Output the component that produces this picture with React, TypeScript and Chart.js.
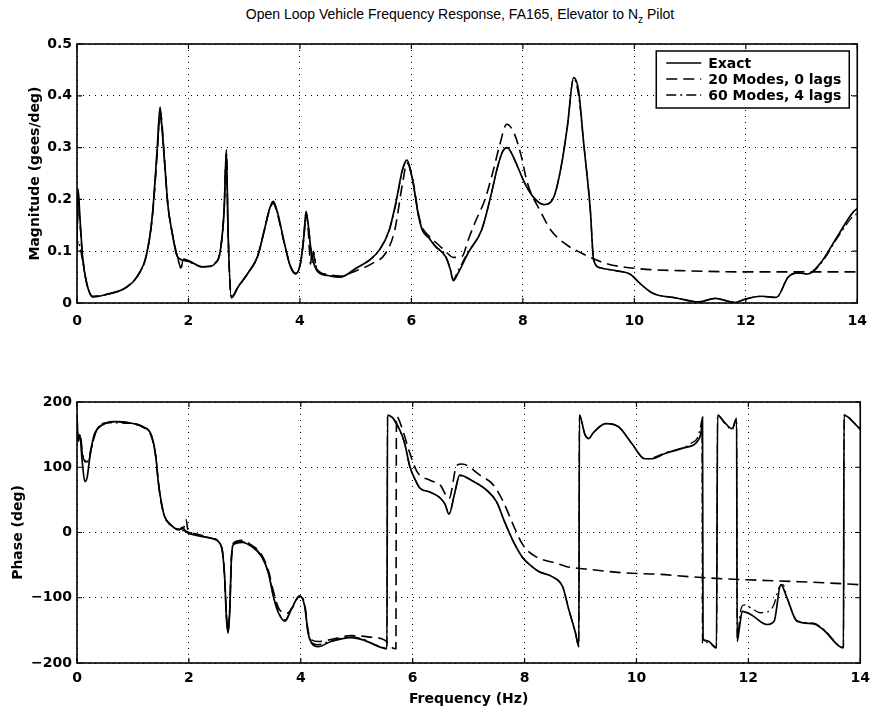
import React, { useEffect, useRef } from 'react';
import { Chart, registerables } from 'chart.js';
Chart.register(...registerables);

const FONT = "'DejaVu Sans', 'Liberation Sans', sans-serif";

// ---------- Magnitude (gees/deg) ----------
const magExactFreq = [0, 0.02, 0.05, 0.1, 0.17, 0.28, 0.4, 0.58, 0.75, 0.88, 1.0, 1.12, 1.24, 1.35, 1.44, 1.49, 1.53, 1.58, 1.63, 1.7, 1.8, 1.92, 2.0, 2.1, 2.24, 2.35, 2.48, 2.57, 2.64, 2.68, 2.71, 2.77, 2.89, 3.07, 3.24, 3.36, 3.45, 3.52, 3.6, 3.72, 3.83, 3.92, 4.01, 4.07, 4.11, 4.15, 4.19, 4.24, 4.31, 4.5, 4.72, 5.02, 5.25, 5.43, 5.6, 5.72, 5.84, 5.92, 6.02, 6.13, 6.2, 6.31, 6.43, 6.61, 6.7, 6.75, 6.84, 7.02, 7.26, 7.41, 7.55, 7.64, 7.72, 7.85, 8.03, 8.2, 8.38, 8.56, 8.7, 8.8, 8.91, 9.0, 9.09, 9.21, 9.27, 9.39, 9.68, 9.92, 10.1, 10.33, 10.74, 11.16, 11.45, 11.8, 11.98, 12.28, 12.55, 12.76, 12.94, 13.11, 13.34, 13.64, 13.93, 14];
const magExactVal = [0.12, 0.22, 0.17, 0.09, 0.04, 0.012, 0.013, 0.018, 0.023, 0.03, 0.04, 0.058, 0.09, 0.167, 0.3, 0.378, 0.33, 0.26, 0.19, 0.14, 0.09, 0.082, 0.08, 0.076, 0.07, 0.07, 0.077, 0.1, 0.18, 0.296, 0.14, 0.01, 0.031, 0.058, 0.09, 0.14, 0.18, 0.196, 0.174, 0.116, 0.07, 0.056, 0.077, 0.128, 0.177, 0.15, 0.11, 0.08, 0.062, 0.053, 0.05, 0.068, 0.083, 0.103, 0.14, 0.193, 0.258, 0.276, 0.238, 0.167, 0.14, 0.126, 0.109, 0.09, 0.064, 0.043, 0.058, 0.097, 0.141, 0.2, 0.264, 0.293, 0.3, 0.277, 0.232, 0.203, 0.19, 0.206, 0.271, 0.342, 0.435, 0.41, 0.31, 0.18, 0.083, 0.068, 0.062, 0.056, 0.038, 0.019, 0.01, 0.002, 0.009, 0.001, 0.007, 0.013, 0.011, 0.05, 0.058, 0.056, 0.077, 0.128, 0.176, 0.182];

const mag20Freq = [0, 0.02, 0.05, 0.1, 0.17, 0.28, 0.58, 0.88, 1.12, 1.24, 1.35, 1.44, 1.49, 1.53, 1.58, 1.63, 1.7, 1.8, 1.87, 1.9, 2.0, 2.24, 2.48, 2.57, 2.64, 2.68, 2.71, 2.77, 2.89, 3.07, 3.24, 3.36, 3.45, 3.52, 3.6, 3.72, 3.83, 3.92, 4.01, 4.07, 4.11, 4.15, 4.19, 4.22, 4.31, 4.5, 4.72, 5.0, 5.31, 5.53, 5.7, 5.84, 5.92, 6.02, 6.13, 6.2, 6.31, 6.49, 6.61, 6.75, 6.91, 7.02, 7.14, 7.32, 7.46, 7.58, 7.71, 7.85, 7.97, 8.08, 8.33, 8.5, 8.79, 9.04, 9.39, 9.57, 10.1, 10.99, 12.16, 13.0, 14];
const mag20Val = [0.12, 0.2, 0.16, 0.09, 0.04, 0.013, 0.018, 0.03, 0.058, 0.09, 0.165, 0.29, 0.37, 0.34, 0.26, 0.19, 0.14, 0.09, 0.068, 0.085, 0.082, 0.07, 0.077, 0.1, 0.18, 0.29, 0.14, 0.012, 0.031, 0.058, 0.09, 0.14, 0.178, 0.192, 0.17, 0.115, 0.072, 0.058, 0.077, 0.125, 0.172, 0.14, 0.075, 0.1, 0.065, 0.055, 0.052, 0.062, 0.077, 0.095, 0.14, 0.23, 0.27, 0.24, 0.17, 0.145, 0.13, 0.112, 0.1, 0.088, 0.09, 0.122, 0.155, 0.2, 0.252, 0.303, 0.345, 0.326, 0.284, 0.232, 0.174, 0.141, 0.112, 0.097, 0.08, 0.074, 0.066, 0.062, 0.06, 0.06, 0.06];

const mag60Freq = [0, 0.02, 0.05, 0.1, 0.17, 0.28, 0.58, 0.88, 1.12, 1.24, 1.35, 1.44, 1.49, 1.53, 1.58, 1.63, 1.7, 1.8, 1.87, 1.9, 2.0, 2.24, 2.48, 2.57, 2.64, 2.68, 2.71, 2.77, 2.89, 3.07, 3.24, 3.36, 3.45, 3.52, 3.6, 3.72, 3.83, 3.92, 4.01, 4.07, 4.11, 4.15, 4.19, 4.22, 4.24, 4.31, 4.5, 4.72, 5.02, 5.25, 5.43, 5.6, 5.72, 5.84, 5.92, 6.02, 6.13, 6.2, 6.31, 6.43, 6.61, 6.7, 6.75, 6.84, 7.02, 7.26, 7.41, 7.55, 7.64, 7.72, 7.85, 8.03, 8.2, 8.38, 8.56, 8.7, 8.8, 8.91, 9.0, 9.09, 9.21, 9.27, 9.39, 9.68, 9.92, 10.1, 10.33, 10.74, 11.16, 11.45, 11.8, 11.98, 12.28, 12.55, 12.76, 12.94, 13.11, 13.34, 13.64, 13.93, 14];
const mag60Val = [0.1, 0.12, 0.11, 0.08, 0.04, 0.012, 0.018, 0.03, 0.058, 0.09, 0.165, 0.29, 0.36, 0.33, 0.26, 0.19, 0.14, 0.09, 0.066, 0.083, 0.08, 0.07, 0.077, 0.1, 0.18, 0.29, 0.14, 0.01, 0.031, 0.058, 0.09, 0.14, 0.18, 0.195, 0.172, 0.115, 0.07, 0.056, 0.077, 0.128, 0.175, 0.15, 0.11, 0.078, 0.1, 0.063, 0.053, 0.05, 0.068, 0.083, 0.103, 0.14, 0.19, 0.256, 0.274, 0.237, 0.167, 0.14, 0.128, 0.11, 0.092, 0.065, 0.046, 0.063, 0.099, 0.141, 0.2, 0.264, 0.293, 0.3, 0.277, 0.232, 0.203, 0.19, 0.206, 0.271, 0.342, 0.433, 0.4, 0.31, 0.18, 0.083, 0.068, 0.062, 0.056, 0.038, 0.019, 0.01, 0.002, 0.009, 0.001, 0.007, 0.013, 0.011, 0.05, 0.058, 0.056, 0.075, 0.125, 0.168, 0.172];

// ---------- Phase (deg) ----------
const phExactFreq = [0, 0.02, 0.05, 0.09, 0.14, 0.18, 0.23, 0.3, 0.38, 0.53, 0.7, 1.0, 1.18, 1.33, 1.41, 1.45, 1.5, 1.56, 1.65, 1.83, 1.88, 1.95, 2.12, 2.41, 2.53, 2.6, 2.64, 2.67, 2.7, 2.73, 2.76, 2.8, 2.95, 3.13, 3.3, 3.42, 3.51, 3.6, 3.72, 3.83, 3.98, 4.07, 4.13, 4.19, 4.31, 4.54, 4.9, 5.13, 5.31, 5.54, 5.55, 5.64, 5.73, 5.85, 5.95, 6.05, 6.13, 6.31, 6.49, 6.58, 6.65, 6.75, 6.84, 7.09, 7.32, 7.5, 7.64, 7.8, 7.97, 8.1, 8.26, 8.5, 8.68, 8.79, 8.91, 8.97, 8.98, 9.08, 9.15, 9.22, 9.45, 9.68, 9.92, 10.15, 10.28, 10.51, 10.86, 11.09, 11.16, 11.18, 11.19, 11.27, 11.43, 11.45, 11.57, 11.71, 11.79, 11.8, 11.84, 11.89, 12.05, 12.33, 12.46, 12.58, 12.69, 12.87, 13.17, 13.34, 13.7, 13.71, 13.93, 14];
const phExactVal = [180, 140, 150, 112, 78, 84, 116, 148, 160, 168, 170, 167, 162, 149, 116, 80, 50, 26, 14, 4, 8, 1, -4, -9, -14, -30, -70, -130, -154, -120, -40, -18, -15, -22, -37, -62, -98, -123, -136, -118, -97, -113, -154, -169, -175, -167, -161, -165, -172, -178, 180, 176, 164, 139, 101, 80, 68, 62, 53, 43, 28, 60, 88, 78, 65, 47, 17, -14, -39, -50, -60, -68, -83, -118, -154, -175, 180, 150, 144, 152, 167, 162, 136, 113, 113, 121, 130, 140, 157, 177, -164, -166, -177, 180, 169, 159, 175, -167, -146, -121, -126, -141, -136, -80, -100, -136, -140, -149, -177, 180, 164, 158];

const ph20Freq = [0, 0.02, 0.06, 0.1, 0.15, 0.2, 0.25, 0.35, 0.53, 0.7, 1.0, 1.18, 1.33, 1.41, 1.45, 1.5, 1.56, 1.65, 1.83, 1.9, 1.95, 1.98, 2.12, 2.3, 2.41, 2.53, 2.6, 2.64, 2.67, 2.7, 2.73, 2.76, 2.8, 2.95, 3.13, 3.3, 3.42, 3.51, 3.6, 3.75, 3.85, 3.98, 4.07, 4.13, 4.2, 4.31, 4.54, 4.9, 5.2, 5.5, 5.64, 5.7, 5.71, 5.81, 5.94, 6.08, 6.31, 6.49, 6.65, 6.79, 6.88, 7.2, 7.44, 7.62, 7.8, 7.97, 8.2, 8.56, 8.74, 9.21, 9.8, 10.39, 10.99, 11.57, 12.16, 12.76, 13.34, 14];
const ph20Val = [180, 140, 148, 120, 108, 110, 128, 157, 168, 170, 167, 161, 147, 114, 80, 48, 26, 13, 5, 6, 20, 5, -2, -6, -9, -14, -28, -70, -125, -150, -118, -40, -16, -12, -20, -34, -58, -90, -115, -124, -115, -98, -110, -150, -165, -167, -164, -158, -160, -165, -177, -178, 178, 160, 124, 93, 80, 73, 52, 103, 105, 88, 73, 47, 11, -19, -37, -47, -52, -57, -62, -64, -68, -71, -73, -75, -77, -80];

const ph60Freq = [0, 0.02, 0.06, 0.1, 0.15, 0.2, 0.25, 0.35, 0.53, 1.0, 1.18, 1.33, 1.41, 1.45, 1.5, 1.56, 1.65, 1.83, 1.95, 2.12, 2.41, 2.53, 2.6, 2.64, 2.67, 2.7, 2.73, 2.76, 2.8, 2.95, 3.13, 3.3, 3.42, 3.51, 3.6, 3.72, 3.83, 3.98, 4.07, 4.13, 4.19, 4.31, 4.54, 4.9, 5.13, 5.31, 5.54, 5.55, 5.64, 5.73, 5.85, 5.95, 6.05, 6.13, 6.31, 6.49, 6.58, 6.65, 6.75, 6.84, 7.09, 7.32, 7.5, 7.64, 7.8, 7.97, 8.1, 8.26, 8.5, 8.68, 8.79, 8.91, 8.97, 8.98, 9.08, 9.15, 9.22, 9.45, 9.68, 9.92, 10.15, 10.28, 10.51, 10.86, 11.0, 11.09, 11.14, 11.17, 11.18, 11.27, 11.43, 11.45, 11.57, 11.71, 11.79, 11.8, 11.86, 11.93, 12.05, 12.21, 12.33, 12.45, 12.55, 12.62, 12.69, 12.87, 13.17, 13.34, 13.7, 13.71, 13.93, 14];
const ph60Val = [180, 142, 148, 118, 110, 108, 125, 157, 168, 167, 162, 148, 115, 80, 50, 25, 14, 4, 2, -4, -9, -14, -30, -70, -128, -152, -120, -40, -17, -14, -21, -36, -61, -96, -121, -134, -117, -97, -112, -152, -168, -172, -166, -160, -164, -171, -177, 180, 175, 163, 138, 100, 80, 68, 62, 53, 43, 29, 60, 87, 78, 65, 47, 17, -14, -39, -50, -60, -68, -83, -118, -154, -175, 180, 150, 144, 152, 167, 162, 136, 113, 114, 122, 131, 138, 145, 160, 172, -170, -168, -176, 180, 168, 158, 174, -165, -120, -111, -116, -123, -122, -112, -84, -80, -100, -135, -139, -148, -176, 180, 165, 160];

const seriesLabels = ['Exact', '20 Modes, 0 lags', '60 Modes, 4 lags'];
const freqTicksStep = 2;
const magTicksStep = 0.1;
const phaseTicksStep = 100;

const pts = (xs: number[], ys: number[]) => xs.map((x, i) => ({ x, y: ys[i] }));

const STYLES = [
  { borderDash: [] as number[], borderWidth: 1.7 },
  { borderDash: [11, 6], borderWidth: 1.6 },
  { borderDash: [10, 4, 2, 4], borderWidth: 1.3 },
];

const framePlugin = {
  id: 'frame',
  afterDatasetsDraw(chart: any) {
    const { ctx, chartArea: a, scales } = chart;
    ctx.save();
    ctx.strokeStyle = '#000';
    ctx.setLineDash([]);
    ctx.lineWidth = 1.6;
    ctx.strokeRect(a.left, a.top, a.right - a.left, a.bottom - a.top);
    ctx.lineWidth = 1.2;
    const L = 5;
    ctx.beginPath();
    scales.x.ticks.forEach((t: any) => {
      const p = scales.x.getPixelForValue(t.value);
      ctx.moveTo(p, a.bottom); ctx.lineTo(p, a.bottom - L);
      ctx.moveTo(p, a.top); ctx.lineTo(p, a.top + L);
    });
    scales.y.ticks.forEach((t: any) => {
      const p = scales.y.getPixelForValue(t.value);
      ctx.moveTo(a.left, p); ctx.lineTo(a.left + L, p);
      ctx.moveTo(a.right, p); ctx.lineTo(a.right - L, p);
    });
    ctx.stroke();
    ctx.restore();
  },
};

const legendPlugin = {
  id: 'boxLegend',
  afterDraw(chart: any) {
    const { ctx, chartArea: a } = chart;
    const w = 193, h = 57;
    const left = a.right - 8 - w, top = a.top + 7;
    ctx.save();
    ctx.fillStyle = '#fff';
    ctx.fillRect(left, top, w, h);
    ctx.strokeStyle = '#000';
    ctx.lineWidth = 1.5;
    ctx.setLineDash([]);
    ctx.strokeRect(left, top, w, h);
    chart.data.datasets.forEach((ds: any, i: number) => {
      const y = top + 12 + i * 16;
      ctx.beginPath();
      ctx.setLineDash(ds.borderDash || []);
      ctx.lineWidth = ds.borderWidth;
      ctx.moveTo(left + 10, y);
      ctx.lineTo(left + 45, y);
      ctx.stroke();
      ctx.setLineDash([]);
      ctx.fillStyle = '#000';
      ctx.font = `bold 14px ${FONT}`;
      ctx.textBaseline = 'middle';
      ctx.textAlign = 'left';
      ctx.fillText(ds.label, left + 52, y + 1);
    });
    ctx.restore();
  },
};

const tickFont = { family: FONT, size: 14, weight: 'bold' as const };

function buildConfig(opts: {
  series: { x: number[]; y: number[] }[];
  yMin: number; yMax: number; yStep: number;
  yTitle: string; yTitlePad: number;
  padTop: number; xAxisH: number; xTickPad: number;
  xTitle?: string; withLegend: boolean;
}) {
  const datasets = opts.series.map((s, i) => ({
    label: seriesLabels[i],
    data: pts(s.x, s.y),
    borderColor: '#000',
    backgroundColor: '#000',
    borderWidth: STYLES[i].borderWidth,
    borderDash: STYLES[i].borderDash,
    pointRadius: 0,
    fill: false,
    cubicInterpolationMode: 'monotone' as const,
  }));
  return {
    type: 'line' as const,
    data: { datasets },
    plugins: opts.withLegend ? [framePlugin, legendPlugin] : [framePlugin],
    options: {
      animation: false as const,
      responsive: false,
      maintainAspectRatio: false,
      layout: { autoPadding: false, padding: { top: opts.padTop, left: 0, right: 11, bottom: 0 } },
      plugins: { legend: { display: false }, tooltip: { enabled: false }, title: { display: false } },
      scales: {
        x: {
          type: 'linear' as const,
          min: 0, max: 14,
          ticks: { stepSize: freqTicksStep, color: '#000', font: tickFont, padding: opts.xTickPad, maxRotation: 0 },
          grid: { color: '#000', lineWidth: 1, drawTicks: false },
          border: { display: false, dash: [1, 5] },
          title: opts.xTitle
            ? { display: true, text: opts.xTitle, color: '#000', font: tickFont, padding: { top: 0, bottom: 11 } }
            : { display: false },
          afterFit: (s: any) => { s.height = opts.xAxisH; },
        },
        y: {
          type: 'linear' as const,
          min: opts.yMin, max: opts.yMax,
          ticks: {
            stepSize: opts.yStep, color: '#000', font: tickFont, padding: 5,
            callback: (v: any) => String(Math.round(v * 1000) / 1000).replace('-', '\u2212'),
          },
          grid: { color: '#000', lineWidth: 1, drawTicks: false },
          border: { display: false, dash: [1, 5] },
          title: { display: true, text: opts.yTitle, color: '#000', font: tickFont, padding: { top: opts.yTitlePad, bottom: 0 } },
          afterFit: (s: any) => { s.width = 77; },
        },
      },
    },
  };
}

export default function App() {
  const topRef = useRef<HTMLCanvasElement>(null);
  const botRef = useRef<HTMLCanvasElement>(null);
  useEffect(() => {
    const top = new Chart(topRef.current as any, buildConfig({
      series: [
        { x: magExactFreq, y: magExactVal },
        { x: mag20Freq, y: mag20Val },
        { x: mag60Freq, y: mag60Val },
      ],
      yMin: 0, yMax: 0.5, yStep: magTicksStep,
      yTitle: 'Magnitude (gees/deg)', yTitlePad: 27,
      padTop: 44, xAxisH: 37, xTickPad: 10, withLegend: true,
    }) as any);
    const bot = new Chart(botRef.current as any, buildConfig({
      series: [
        { x: phExactFreq, y: phExactVal },
        { x: ph20Freq, y: ph20Val },
        { x: ph60Freq, y: ph60Val },
      ],
      yMin: -200, yMax: 200, yStep: phaseTicksStep,
      yTitle: 'Phase (deg)', yTitlePad: 10,
      padTop: 62, xAxisH: 56, xTickPad: 7, xTitle: 'Frequency (Hz)', withLegend: false,
    }) as any);
    return () => { top.destroy(); bot.destroy(); };
  }, []);
  return (
    <div style={{ position: 'fixed', left: 0, top: 0, width: 877, height: 719, background: '#fff', overflow: 'hidden' }}>
      <div style={{
        position: 'absolute', left: 460, top: 6, transform: 'translateX(-50%)', whiteSpace: 'nowrap',
        font: "14px 'Liberation Sans', Arial, sans-serif", color: '#000',
      }}>
        Open Loop Vehicle Frequency Response, FA165, Elevator to N<sub style={{ fontSize: 10 }}>z</sub> Pilot
      </div>
      <canvas ref={topRef} width={877} height={340} style={{ position: 'absolute', left: 0, top: 0, display: 'block' }} />
      <canvas ref={botRef} width={877} height={379} style={{ position: 'absolute', left: 0, top: 340, display: 'block' }} />
    </div>
  );
}
